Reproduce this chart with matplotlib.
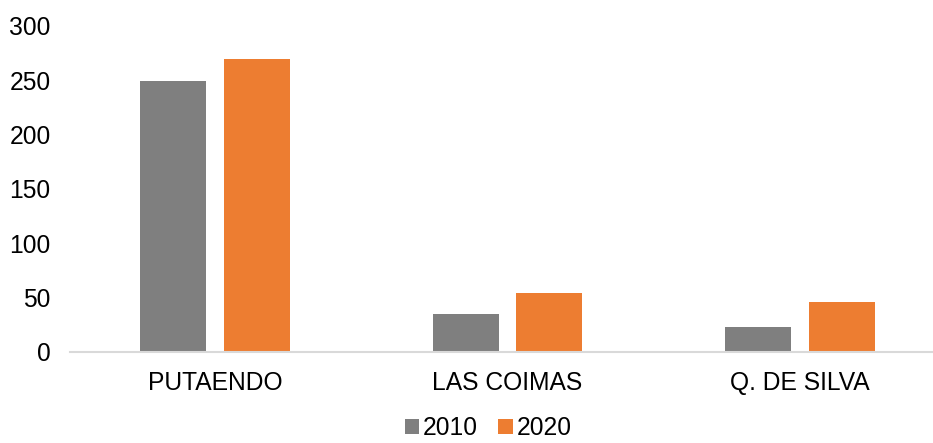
import matplotlib.pyplot as plt
import numpy as np

plt.rcParams['font.family'] = ['Liberation Sans', 'DejaVu Sans']

# Data
categories = ['PUTAENDO', 'LAS COIMAS', 'Q. DE SILVA']
years = ['2010', '2020']
values_2010 = [249, 35, 22.5]
values_2020 = [269, 54, 46]

colors = ['#7f7f7f', '#ed7d31']

fig = plt.figure(figsize=(9.33, 4.43), dpi=100)
ax = fig.add_axes([70 / 933, 91.3 / 443, 863 / 933, 326 / 443])

x = np.arange(len(categories))
w = 0.225
off = 0.1425
ax.bar(x - off, values_2010, w, color=colors[0], label=years[0])
ax.bar(x + off, values_2020, w, color=colors[1], label=years[1])

ax.set_xlim(-0.496, 2.455)
ax.set_ylim(0, 300)
ax.set_yticks(range(0, 301, 50))
ax.set_xticks(x)
ax.set_xticklabels(categories)

for s in ['top', 'right', 'left']:
    ax.spines[s].set_visible(False)
ax.spines['bottom'].set_color('#d9d9d9')
ax.spines['bottom'].set_linewidth(1.5)
ax.tick_params(axis='both', length=0, labelsize=17.7, colors='black')
ax.tick_params(axis='y', pad=14)
ax.tick_params(axis='x', pad=14)

fig.legend(loc='center', bbox_to_anchor=(488 / 933, 1 - 428 / 443), ncol=2,
           frameon=False, fontsize=17.7, handlelength=0.6, handleheight=0.6,
           handletextpad=0.15, columnspacing=0.8, borderpad=0.1)

fig.savefig('out.png', dpi=100)
